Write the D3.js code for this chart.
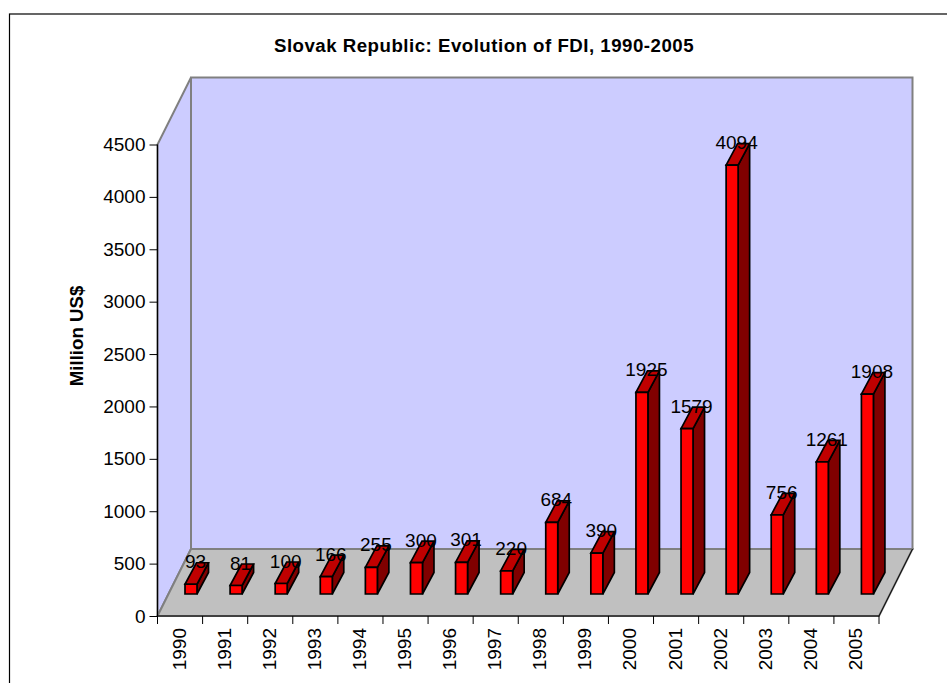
<!DOCTYPE html>
<html>
<head>
<meta charset="utf-8">
<script src="https://cdn.jsdelivr.net/npm/d3@7"></script>
<style>
  html, body { margin: 0; padding: 0; background: #fff; overflow: hidden; }
  svg { display: block; }
  text { font-family: "Liberation Sans", Arial, sans-serif; fill: #000; }
</style>
</head>
<body>
<svg id="chart" width="947" height="683"></svg>
<script>
var years = ["1990", "1991", "1992", "1993", "1994", "1995", "1996", "1997",
             "1998", "1999", "2000", "2001", "2002", "2003", "2004", "2005"];
var fdi = [93, 81, 100, 166, 255, 300, 301, 220, 684, 390, 1925, 1579, 4094, 756, 1261, 1908];
var yTicks = [0, 500, 1000, 1500, 2000, 2500, 3000, 3500, 4000, 4500];

var svg = d3.select("#chart");

var x = d3.scaleBand().domain(years).range([157.5, 879]);
var y = d3.scaleLinear().domain([0, 4500]).range([616, 144.5]);

// depth of the plot box and of the bars
var depth = {x: 33.5, y: -67},
    barDepth = {x: 11.5, y: -21.5},
    barBase = 594,
    barLeft = 27.5,
    barWidth = 12;

var fontSize = 19;

function poly(pts) {
  return d3.line()(pts) + "Z";
}

// chart frame, cut off by the page on the right and bottom
svg.append("rect")
    .attr("x", 9.5).attr("y", 14)
    .attr("width", 1000).attr("height", 700)
    .attr("fill", "#fff").attr("stroke", "#000").attr("stroke-width", 1.2);

svg.append("text")
    .attr("x", 484).attr("y", 52)
    .attr("text-anchor", "middle")
    .attr("font-weight", "bold")
    .attr("font-size", 18.67)
    .attr("letter-spacing", 0.5)
    .text("Slovak Republic: Evolution of FDI, 1990-2005");

// walls and floor
var x0 = x.range()[0], x1 = x.range()[1], y0 = y(0), yTop = y(4500);

svg.append("path")
    .attr("d", poly([[x0, y0], [x0, yTop], [x0 + depth.x, yTop + depth.y], [x0 + depth.x, y0 + depth.y]]))
    .attr("fill", "#ccccff").attr("stroke", "#808080").attr("stroke-width", 2);

svg.append("path")
    .attr("d", poly([[x0 + depth.x, y0 + depth.y], [x0 + depth.x, yTop + depth.y], [x1 + depth.x, yTop + depth.y], [x1 + depth.x, y0 + depth.y]]))
    .attr("fill", "#ccccff").attr("stroke", "#808080").attr("stroke-width", 2);

svg.append("path")
    .attr("d", poly([[x0, y0], [x0 + depth.x, y0 + depth.y], [x1 + depth.x, y0 + depth.y], [x1, y0]]))
    .attr("fill", "#c0c0c0").attr("stroke", "#808080").attr("stroke-width", 2);

// right edge of the floor is black
svg.append("path")
    .attr("d", d3.line()([[x1 + depth.x, y0 + depth.y], [x1, y0]]))
    .attr("fill", "none").attr("stroke", "#000").attr("stroke-width", 1);

// bars
var h = function(v) { return y(0) - y(v); };

var bar = svg.append("g").selectAll("g")
    .data(fdi)
  .join("g")
    .attr("stroke", "#000").attr("stroke-width", 1.7).attr("stroke-linejoin", "miter");

bar.append("path")
    .attr("fill", "#800000")
    .attr("d", function(d, i) {
      var l = x(years[i]) + barLeft + barWidth, t = barBase - h(d);
      return poly([[l, barBase], [l, t], [l + barDepth.x, t + barDepth.y], [l + barDepth.x, barBase + barDepth.y]]);
    });

bar.append("path")
    .attr("fill", "#c00000")
    .attr("d", function(d, i) {
      var l = x(years[i]) + barLeft, t = barBase - h(d);
      return poly([[l, t], [l + barDepth.x, t + barDepth.y], [l + barWidth + barDepth.x, t + barDepth.y], [l + barWidth, t]]);
    });

bar.append("path")
    .attr("fill", "#ff0000")
    .attr("d", function(d, i) {
      var l = x(years[i]) + barLeft, t = barBase - h(d);
      return poly([[l, t], [l + barWidth, t], [l + barWidth, barBase], [l, barBase]]);
    });

// value labels sit on top of the bars
svg.append("g").selectAll("text")
    .data(fdi)
  .join("text")
    .attr("text-anchor", "middle")
    .attr("font-size", fontSize)
    .attr("x", function(d, i) { return x(years[i]) + barLeft + barWidth / 2 + 4.5; })
    .attr("y", function(d) { return barBase - h(d) - 16; })
    .text(function(d) { return d; });

// axes
var yAxis = d3.axisLeft(y).tickValues(yTicks).tickFormat(d3.format("d")).tickSize(8).tickPadding(4);
var gy = svg.append("g").attr("transform", "translate(" + x0 + ",0)").call(yAxis);
gy.selectAll("text").attr("font-size", fontSize).attr("font-family", null);
gy.select(".domain").attr("d", "M0," + yTop + "V" + y0).attr("stroke-width", 1.2);
gy.selectAll("line").attr("stroke", "#000");

var gx = svg.append("g").attr("transform", "translate(0," + y0 + ")");
gx.append("line").attr("x1", x0).attr("x2", x1).attr("stroke", "#000").attr("stroke-width", 1.2);
gx.selectAll(".tick")
    .data(years.concat(["end"]))
  .join("line")
    .attr("class", "tick")
    .attr("stroke", "#000")
    .attr("y2", 8)
    .attr("x1", function(d, i) { return x0 + i * x.step(); })
    .attr("x2", function(d, i) { return x0 + i * x.step(); });
gx.selectAll(".lbl")
    .data(years)
  .join("text")
    .attr("class", "lbl")
    .attr("font-size", fontSize)
    .attr("text-anchor", "end")
    .attr("transform", function(d) {
      return "translate(" + (x(d) + x.bandwidth() / 2 + 5.5) + ",12) rotate(-90)";
    })
    .text(function(d) { return d; });

svg.append("text")
    .attr("transform", "translate(83,336) rotate(-90)")
    .attr("text-anchor", "middle")
    .attr("font-weight", "bold")
    .attr("font-size", 18.67)
    .text("Million US$");
</script>
</body>
</html>
